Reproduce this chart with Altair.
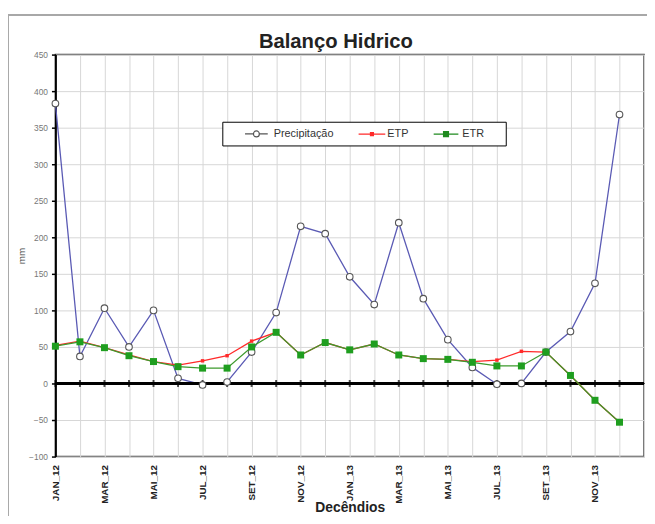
import altair as alt
import pandas as pd

months = ["JAN_12", "FEV_12", "MAR_12", "ABR_12", "MAI_12", "JUN_12",
          "JUL_12", "AGO_12", "SET_12", "OUT_12", "NOV_12", "DEZ_12",
          "JAN_13", "FEV_13", "MAR_13", "ABR_13", "MAI_13", "JUN_13",
          "JUL_13", "AGO_13", "SET_13", "OUT_13", "NOV_13", "DEZ_13"]
precipitacao = [383, 37, 103, 50, 100, 7, -2, 2, 43, 97, 215, 205,
                146, 108, 220, 116, 60, 22, -1, 0, 43, 71, 137, 368]
etp = [52, 58, 49, 39, 30, 25, 31, 38, 58, 70, 39, 56,
       46, 54, 39, 34, 33, 30, 32, 44, 43, 11, -23, -53]
etr = [51, 57, 49, 38, 30, 23, 21, 21, 50, 70, 39, 56,
       46, 54, 39, 34, 33, 29, 24, 24, 43, 11, -23, -53]
tick_labels = [m if i % 2 == 0 else "" for i, m in enumerate(months)]
series_names = ["Precipitação", "ETP", "ETR"]
y_ticks = list(range(-100, 451, 50))

W, H = 596, 407
FONT = "Liberation Sans"

df = pd.DataFrame({"idx": list(range(len(months))), "mes": months,
                   "Precipitação": precipitacao, "ETP": etp, "ETR": etr})
long = df.melt(id_vars=["idx", "mes"], var_name="serie", value_name="mm")
df["zero"] = 0

label_js = "[" + ",".join("'%s'" % l for l in tick_labels) + "]"

x_scale = alt.Scale(domain=[0, 24], nice=False, zero=False)
x_axis = alt.Axis(values=list(range(25)),
                  labelExpr=label_js + "[datum.value] || ''",
                  labelAngle=-90, labelFontSize=10, labelFontWeight="bold",
                  labelColor="#222", labelFont=FONT, labelOverlap=False,
                  labelFlush=False, labelPadding=8,
                  ticks=False, domain=False, grid=True,
                  gridColor="#d6d6d6", gridWidth=1,
                  title="Decêndios", titleFont=FONT, titleFontSize=14,
                  titleFontWeight="bold", titleColor="#222",
                  titleY=56, titleBaseline="alphabetic")
y_scale = alt.Scale(domain=[-100, 450], nice=False, zero=False)
y_axis = alt.Axis(values=y_ticks, labelFontSize=8.5, labelColor="#777",
                  labelFont=FONT, labelOverlap=False, labelPadding=4,
                  tickColor="black", tickSize=4,
                  tickWidth=1.5, domainColor="black", domainWidth=2,
                  grid=True, gridColor="#d6d6d6", gridWidth=1,
                  title="mm", titleFont=FONT, titleFontSize=10,
                  titleFontWeight="normal", titleColor="#444",
                  titleX=-29, titleY=H / 2)

base = alt.Chart(long).encode(x=alt.X("idx:Q", scale=x_scale, axis=x_axis),
                              y=alt.Y("mm:Q", scale=y_scale, axis=y_axis))

zero = alt.Chart(df).mark_rule(color="black", strokeWidth=2.5).encode(
    y=alt.Y("zero:Q", scale=y_scale, axis=y_axis))
zero_ticks = alt.Chart(df).mark_tick(
    orient="vertical", color="black", thickness=2, size=7).encode(
    x=alt.X("idx:Q", scale=x_scale, axis=x_axis),
    y=alt.Y("zero:Q", scale=y_scale, axis=y_axis))

prec = base.transform_filter(alt.datum.serie == "Precipitação")
etp_c = base.transform_filter(alt.datum.serie == "ETP")
etr_c = base.transform_filter(alt.datum.serie == "ETR")

prec_line = prec.mark_line(color="#5a5ab4", strokeWidth=1.3)
prec_pts = prec.mark_point(shape="circle", filled=True, fill="white",
                           stroke="#555", strokeWidth=1.1, size=45, opacity=1)
etp_line = etp_c.mark_line(color="#ff2a2a", strokeWidth=1.3)
etp_pts = etp_c.mark_point(shape="square", filled=True, color="#ff2a2a",
                           size=12, opacity=1)
etr_line = etr_c.mark_line(color="#3d9a2d", strokeWidth=1.3)
etr_pts = etr_c.mark_point(shape="square", filled=True, color="#1f9e1f",
                           size=50, opacity=1)

# legend symbols: line with marker (unit = 5px)
p_prec = "M-1,0H0.7M1.9,0H3.6M0.7,0A0.6,0.6,0,1,0,1.9,0A0.6,0.6,0,1,0,0.7,0Z"
p_etp = "M-1,0H4.4M1.4,-0.3H2V0.3H1.4Z"
p_etr = "M-1,0H4M1,-0.5H2V0.5H1Z"
blank = "\u2800"

leg = dict(title=None, orient="none", legendX=169, legendY=68,
           direction="horizontal", columns=3)
legend_layer = alt.Chart(pd.DataFrame({"serie": series_names})).mark_point(
    filled=False, strokeWidth=1.2, opacity=0).encode(
    x=alt.value(W / 2), y=alt.value(H / 2),
    shape=alt.Shape("serie:N", scale=alt.Scale(domain=series_names,
                                                 range=[p_prec, p_etp, p_etr]),
                    legend=alt.Legend(symbolSize=100,
                                      strokeColor="black", fillColor="white",
                                      padding=6, columnPadding=8,
                                      labelFontSize=11, labelFont=FONT,
                                      labelColor="#333", symbolStrokeWidth=1.2,
                                      symbolOpacity=1,
                                      symbolOffset=16, labelOffset=18,
                                      labelExpr="datum.label == 'ETR' ? 'ETR" + blank * 2 + "' : datum.label",
                                      **leg)),
    stroke=alt.Stroke("serie:N", scale=alt.Scale(domain=series_names,
                                                   range=["#555", "#ff2a2a", "#1f8a1f"]),
                      legend=alt.Legend(**leg)),
    fill=alt.Fill("serie:N", scale=alt.Scale(domain=series_names,
                                               range=["white", "#ff2a2a", "#1f8a1f"]),
                  legend=alt.Legend(**leg)),
)

border_v = alt.Chart(pd.DataFrame({"a": [0]})).mark_rule(
    color="#a8a8a8", strokeWidth=2).encode(
    x=alt.value(-48), y=alt.value(-40), y2=alt.value(H + 80))
border_h = alt.Chart(pd.DataFrame({"a": [0]})).mark_rule(
    color="#a8a8a8", strokeWidth=2).encode(
    x=alt.value(-48), x2=alt.value(W + 20), y=alt.value(-40))

chart = alt.layer(
    prec_line, zero, zero_ticks, prec_pts, etp_line, etp_pts,
    etr_line, etr_pts, legend_layer, border_v, border_h
).properties(
    width=W, height=H,
    title=alt.Title("Balanço Hidrico", fontSize=20.5, font=FONT,
                    fontWeight="bold", color="#222", anchor="middle",
                    frame="group", dx=-14, offset=-55, baseline="alphabetic"),
    autosize=alt.AutoSizeParams(type="none"),
    padding={"left": 48, "top": 44, "right": 3, "bottom": 57},
).configure_view(stroke="#444", strokeWidth=1.5)

chart.save("out.html", embed_options={"renderer": "svg", "actions": False})
